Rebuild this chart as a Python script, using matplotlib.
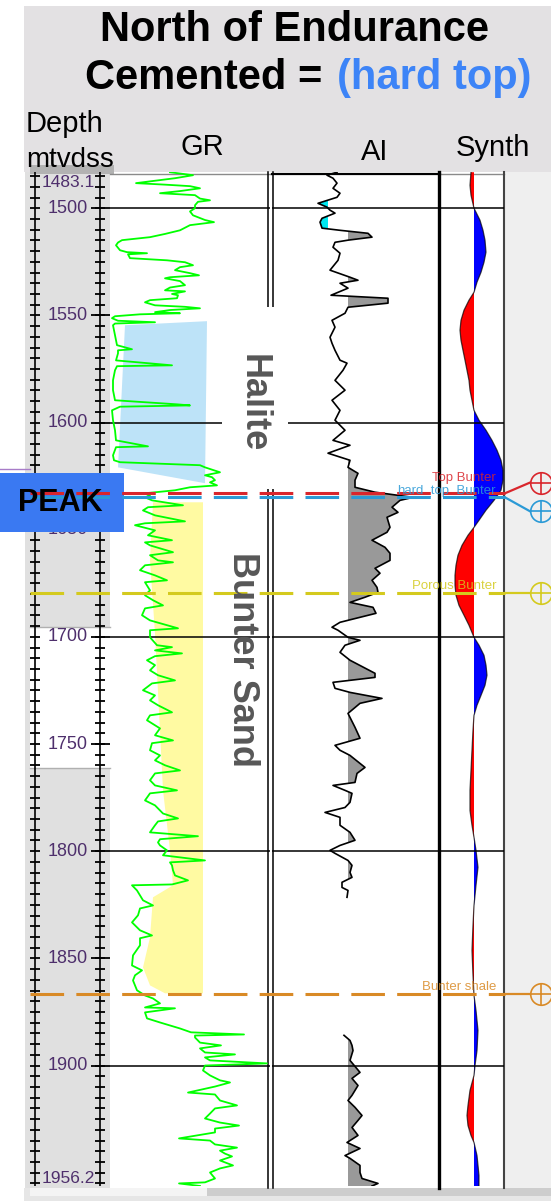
import numpy as np
import matplotlib.pyplot as plt
from matplotlib.transforms import blended_transform_factory

plt.rcParams['font.family'] = ['Liberation Sans', 'DejaVu Sans']

top_depth, base_depth = 1483.1, 1956.2

# GR log (depth m, API)
gr_log = [
    (1483.2, 60), (1484.6, 83), (1486.0, 65), (1488.3, 26), (1489.0, 55), (1489.7, 80), (1490.7, 90),
    (1492.0, 70), (1493.0, 50), (1493.9, 85), (1495.5, 90), (1496.3, 100), (1497.0, 88), (1498.6, 85),
    (1500.0, 85), (1501.5, 80), (1503.3, 83), (1505.5, 95), (1506.5, 104), (1507.9, 80), (1510.3, 70),
    (1512.0, 55), (1513.5, 40), (1514.9, 12), (1516.0, 8), (1517.3, 6), (1519.6, 10), (1520.5, 17),
    (1521.0, 37), (1521.5, 18), (1523.3, 20), (1524.3, 57), (1525.2, 75), (1526.6, 83), (1527.5, 70),
    (1528.9, 65), (1530.3, 80), (1531.3, 89), (1532.2, 60), (1532.7, 55), (1534.0, 70), (1535.9, 75),
    (1537.0, 60), (1538.3, 55), (1538.8, 75), (1540.0, 62), (1540.6, 68), (1542.0, 67), (1542.9, 40),
    (1543.9, 35), (1545.3, 45), (1546.0, 75), (1546.7, 90), (1547.5, 60), (1548.5, 45), (1549.0, 70),
    (1549.5, 30), (1550.4, 5), (1551.3, 2), (1552.5, 8), (1553.2, 45), (1553.8, 5), (1554.6, 3),
    (1559.3, 5), (1563.9, 7), (1565.8, 22), (1566.3, 8), (1567.7, 8), (1571.0, 6), (1573.3, 62),
    (1573.7, 7), (1575.6, 5), (1580.3, 3), (1584.9, 3), (1589.6, 5), (1591.5, 67), (1592.0, 80),
    (1592.6, 10), (1594.3, 2), (1598.9, 3), (1603.6, 5), (1608.3, 6), (1611.1, 38), (1611.5, 6),
    (1615.3, 3), (1617.6, 4), (1618.5, 10), (1619.9, 90), (1620.9, 95), (1623.2, 110), (1624.6, 95),
    (1625.5, 102), (1626.9, 105), (1627.9, 100), (1629.3, 107), (1630.2, 80), (1631.6, 65), (1633.0, 35),
    (1633.9, 40), (1634.9, 35), (1636.3, 42), (1638.6, 73), (1639.5, 38), (1641.0, 33), (1643.3, 45),
    (1646.1, 75), (1647.0, 35), (1647.9, 25), (1650.3, 45), (1652.6, 38), (1654.9, 62), (1655.9, 35),
    (1657.3, 40), (1660.5, 63), (1661.9, 40), (1664.3, 48), (1665.2, 63), (1666.6, 35), (1668.9, 30),
    (1671.3, 45), (1673.6, 57), (1674.5, 35), (1678.3, 40), (1680.6, 35), (1682.9, 43), (1685.3, 53),
    (1686.7, 35), (1689.9, 32), (1692.3, 40), (1696.0, 68), (1696.9, 40), (1700.2, 40), (1703.9, 47),
    (1704.8, 62), (1706.3, 45), (1707.7, 72), (1709.0, 45), (1710.9, 37), (1713.2, 45), (1715.6, 40),
    (1717.9, 48), (1720.3, 65), (1721.7, 42), (1724.9, 33), (1727.3, 45), (1729.6, 40), (1731.9, 48),
    (1735.2, 62), (1736.6, 40), (1738.9, 37), (1742.7, 50), (1745.9, 45), (1748.3, 63), (1749.6, 42),
    (1752.9, 40), (1755.3, 50), (1757.6, 45), (1759.9, 55), (1762.3, 70), (1763.7, 45), (1766.9, 40),
    (1769.3, 45), (1771.6, 67), (1773.0, 40), (1776.3, 35), (1778.6, 45), (1781.0, 50), (1782.4, 53),
    (1784.7, 68), (1786.1, 48), (1787.9, 45), (1791.2, 40), (1793.0, 88), (1794.4, 50), (1795.9, 48),
    (1797.3, 50), (1799.6, 57), (1801.9, 53), (1804.3, 95), (1805.2, 60), (1806.6, 62), (1808.9, 63),
    (1811.3, 65), (1813.6, 78), (1815.5, 62), (1815.9, 22), (1818.3, 27), (1820.6, 30), (1822.9, 33),
    (1825.3, 43), (1826.7, 30), (1829.9, 28), (1833.2, 22), (1836.9, 30), (1839.3, 42), (1840.6, 30),
    (1843.9, 30), (1848.6, 23), (1853.3, 22), (1855.6, 32), (1857.9, 25), (1860.3, 23), (1864.9, 27),
    (1867.3, 35), (1868.7, 43), (1871.0, 50), (1872.9, 35), (1873.3, 65), (1875.2, 35), (1878.0, 37),
    (1879.9, 50), (1882.7, 70), (1884.5, 81), (1885.5, 134), (1886.0, 85), (1886.9, 85), (1889.3, 90),
    (1890.6, 111), (1892.0, 90), (1893.9, 95), (1894.8, 125), (1896.2, 95), (1897.6, 100), (1899.0, 157),
    (1900.0, 95), (1902.3, 93), (1904.6, 100), (1906.9, 110), (1907.9, 120), (1909.8, 105), (1912.6, 78),
    (1913.5, 105), (1916.3, 110), (1918.6, 127), (1920.0, 105), (1922.4, 100), (1924.7, 95), (1926.6, 110),
    (1928.0, 129), (1929.4, 105), (1931.2, 105), (1934.0, 69), (1935.0, 100), (1936.8, 105), (1938.3, 127),
    (1939.7, 110), (1941.1, 115), (1942.4, 122), (1944.3, 110), (1946.6, 123), (1948.0, 110), (1949.9, 100),
    (1952.7, 105), (1954.5, 95), (1955.0, 69), (1956.2, 90),
]

# acoustic impedance (arbitrary units), gap with no data
ai_log = [
    (1483.2, 65), (1484.6, 55), (1486.0, 61), (1488.3, 65), (1490.7, 61), (1493.0, 68), (1494.9, 65),
    (1497.7, 46), (1499.5, 55), (1500.9, 58), (1502.3, 63), (1504.7, 50), (1506.5, 48), (1509.3, 50),
    (1510.3, 68), (1511.7, 96), (1513.5, 100), (1514.9, 76), (1515.9, 63), (1518.2, 61), (1521.0, 68),
    (1524.3, 66), (1528.9, 58), (1532.2, 78), (1533.6, 86), (1535.0, 68), (1537.3, 76), (1540.6, 59),
    (1542.0, 116), (1544.3, 116), (1546.2, 76), (1549.0, 73), (1552.3, 60), (1555.5, 63), (1560.2, 58),
    (1563.0, 60), (1566.3, 63), (1570.9, 68), (1572.3, 75), (1575.6, 71), (1580.3, 63), (1584.9, 73),
    (1589.6, 60), (1594.3, 68), (1598.9, 63), (1603.6, 73), (1608.3, 61), (1610.6, 78), (1614.3, 56),
    (1617.6, 78), (1620.9, 76), (1623.7, 86), (1626.9, 83), (1630.2, 83), (1632.5, 103), (1634.9, 141),
    (1636.3, 128), (1639.5, 120), (1641.9, 126), (1644.2, 115), (1648.9, 118), (1651.2, 115), (1654.9, 100),
    (1658.2, 113), (1661.0, 118), (1664.3, 118), (1668.0, 103), (1670.3, 108), (1673.6, 100), (1676.9, 105),
    (1679.2, 106), (1681.5, 93), (1683.9, 78), (1686.2, 101), (1689.0, 104), (1693.2, 68), (1695.5, 60),
    (1696.9, 66), (1700.2, 76), (1701.6, 88), (1703.9, 73), (1707.2, 68), (1710.9, 78), (1717.0, 103),
    (1718.9, 103), (1721.2, 61), (1724.0, 63), (1725.9, 78), (1728.7, 110), (1731.0, 88), (1735.7, 76),
    (1742.2, 83), (1747.3, 88), (1750.6, 63), (1752.9, 68), (1755.3, 78), (1760.9, 93), (1763.7, 85),
    (1767.9, 83), (1769.3, 61), (1771.6, 73), (1773.0, 80), (1777.2, 78), (1779.6, 73), (1781.9, 53),
    (1784.2, 68), (1787.9, 68), (1791.2, 78), (1794.9, 83), (1797.3, 68), (1799.6, 58), (1801.0, 63),
    (1804.3, 76), (1806.6, 80), (1809.9, 78), (1812.2, 80), (1814.5, 70), (1816.9, 70), (1818.3, 76),
    (1821.5, 75), (1853.0, np.nan),
    (1885.9, 72), (1888.3, 78), (1890.6, 80), (1893.0, 81), (1897.6, 78), (1900.4, 83), (1903.2, 88),
    (1906.0, 80), (1909.3, 86), (1913.9, 80), (1916.3, 76), (1919.5, 83), (1923.3, 90), (1925.6, 86),
    (1928.9, 80), (1932.6, 86), (1935.9, 75), (1938.7, 88), (1942.0, 73), (1943.3, 78), (1946.6, 88),
    (1949.9, 88), (1952.7, 90), (1955.0, 106), (1956.2, 100),
]
ai_hard, ai_soft = 76, 56

# synthetic seismogram amplitude
synth_log = [
    (1483.2, -3), (1489.3, -4), (1493.9, -3), (1500.0, 0), (1505.6, 6), (1510.3, 9), (1514.9, 11),
    (1520.5, 12), (1525.2, 10), (1529.9, 7), (1534.5, 3), (1539.2, 0), (1542.9, -5), (1547.6, -10),
    (1552.3, -13), (1556.9, -14), (1561.6, -13), (1566.3, -11), (1570.9, -9), (1575.6, -7), (1580.3, -5),
    (1584.9, -4), (1589.6, -2), (1594.3, 0), (1598.9, 5), (1603.6, 12), (1608.3, 18), (1612.9, 23),
    (1617.6, 27), (1622.3, 29), (1626.9, 29), (1631.6, 27), (1636.3, 20), (1640.9, 12), (1645.6, 5),
    (1648.9, 0), (1652.6, -6), (1657.3, -12), (1661.9, -16), (1666.6, -18), (1671.3, -19), (1675.9, -19),
    (1680.6, -18), (1685.3, -15), (1689.9, -10), (1694.6, -5), (1700.2, 0), (1703.9, 5), (1708.6, 10),
    (1713.2, 12), (1717.9, 13), (1722.6, 11), (1727.3, 7), (1731.9, 3), (1736.6, 0), (1743.6, -1),
    (1752.9, -2), (1762.3, -3), (1771.6, -4), (1781.0, -4), (1787.9, -2), (1793.5, 0), (1799.6, 2),
    (1807.5, 4), (1815.9, 2), (1825.3, 0), (1834.6, -1), (1846.3, -2), (1857.9, -1), (1867.3, 0),
    (1874.3, 2), (1883.6, 4), (1893.0, 3), (1900.0, 1), (1904.6, 0), (1911.6, -4), (1918.6, -6),
    (1923.3, -7), (1928.0, -6), (1932.6, -3), (1935.9, 0), (1942.0, 3), (1946.6, 4), (1951.3, 5),
    (1956.2, 5),
]

# interpreted zones on the GR track
halite_gr = [15, 97, 95, 8]
halite_depth = [1554.6, 1552.7, 1628.3, 1620.9]
sand_gr = [43, 40, 45, 53, 60, 63, 43, 40, 33, 40, 55, 93, 93]
sand_depth = [1637.2, 1664.3, 1698.4, 1771.6, 1799.6, 1815.9, 1821.5, 1840.2, 1854.2, 1862.6,
              1866.3, 1866.3, 1637.2]

# formation tops
tops_name = ['hard_top_Bunter', 'Top Bunter', 'Porous Bunter', 'Bunter shale']
tops_depth = [1634.9, 1633.0, 1679.7, 1866.8]
tops_color = ['#2b9ad6', '#d9262c', '#d4ca1e', '#d98a26']
tops_shift = [6.5, -5.0, 0, 0]
tops_lift = [2.5, 9, 3, 3]

depth_labels = [1500, 1550, 1600, 1650, 1700, 1750, 1800, 1850, 1900]
grid_depths = [1500, 1600, 1700, 1800, 1900]

gr_depth, gr_api = np.array(gr_log).T
ai_depth, ai_val = np.array(ai_log).T
syn_depth, syn_amp = np.array(synth_log).T

W, H = 551, 1201
y_top, y_base = 172, 1186

fig = plt.figure(figsize=(W / 100, H / 100), dpi=100)
bg = fig.add_axes([0, 0, 1, 1])
bg.set_xlim(0, W)
bg.set_ylim(H, 0)
bg.axis('off')


def box(ax, x0, y0, x1, y1, color, **kw):
    ax.add_patch(plt.Rectangle((x0, y0), x1 - x0, y1 - y0, facecolor=color, lw=0, **kw))


# backgrounds
box(bg, 24, 6, 551, 172, '#e3e1e3')
box(bg, 25, 172, 110, 1190, '#e0e0e0')
box(bg, 30, 627, 110, 768, 'white')
bg.plot([30, 110], [627, 627], color='#b0b0b0', lw=1)
bg.plot([30, 110], [768, 768], color='#b0b0b0', lw=1)
box(bg, 110, 172, 504, 1188, 'white')
box(bg, 504, 172, 551, 1188, '#efefef')
box(bg, 24, 1188, 551, 1201, '#e6e6e6')
box(bg, 30, 1188, 207, 1196, '#f4f4f4')
box(bg, 207, 1188, 551, 1196, '#cdcdcd')
box(bg, 30, 165, 114, 174, '#b2b2b2')

# header
bg.text(295, 41, 'North of Endurance', ha='center', va='baseline', fontsize=30, weight='bold')
bg.text(322, 89, 'Cemented =', ha='right', va='baseline', fontsize=30, weight='bold')
bg.text(337, 89, '(hard top)', ha='left', va='baseline', fontsize=30, weight='bold', color='#3d84f7')
bg.text(26, 132, 'Depth', ha='left', va='baseline', fontsize=21)
bg.text(26, 167, 'mtvdss', ha='left', va='baseline', fontsize=20)
bg.text(202, 155, 'GR', ha='center', va='baseline', fontsize=21)
bg.text(375, 160, 'AI', ha='center', va='baseline', fontsize=21)
bg.text(493, 156, 'Synth', ha='center', va='baseline', fontsize=21)
bg.plot([110, 272], [174, 174], color='#8a8a8a', lw=1)
bg.plot([272, 440], [174, 174], color='black', lw=1.6)
bg.plot([440, 504], [174, 174], color='#8a8a8a', lw=1)

# track borders
bg.plot([268, 268], [172, 1188], color='black', lw=1.1)
bg.plot([273, 273], [172, 1188], color='black', lw=1.1)
bg.plot([439, 439], [172, 1188], color='black', lw=2.4)
bg.plot([504, 504], [172, 1188], color='#444444', lw=1.5)


def track(x0, x1, xlim):
    ax = fig.add_axes([x0 / W, 1 - y_base / H, (x1 - x0) / W, (y_base - y_top) / H])
    ax.set_xlim(*xlim)
    ax.set_ylim(base_depth, top_depth)
    ax.axis('off')
    return ax


depth_ax = track(25, 110, (25, 110))
gr_ax = track(110, 270, (0, 160))
ai_ax = track(272, 438, (0, 166))
syn_ax = track(440, 504, (-34, 30))

# depth scale
ticks = np.arange(1485, 1956, 5)
depth_ax.axvline(35, color='black', lw=1.2)
depth_ax.axvline(100, color='black', lw=1.2)
depth_ax.hlines(ticks, 30, 40, color='black', lw=1.3)
depth_ax.hlines(ticks, 95, 105, color='black', lw=1.3)
depth_ax.hlines(depth_labels, 91, 110, color='black', lw=1.3)
lab_color = '#4e2f6c'
for d in depth_labels:
    depth_ax.text(68, d, str(d), ha='center', va='center', fontsize=13, color=lab_color)
depth_ax.annotate('%.1f' % top_depth, (68, top_depth), xytext=(0, -2), textcoords='offset points',
                  ha='center', va='top', fontsize=12.5, color=lab_color)
depth_ax.annotate('%.1f' % base_depth, (68, base_depth), xytext=(0, 0), textcoords='offset points',
                  ha='center', va='bottom', fontsize=12.5, color=lab_color)

for ax in (gr_ax, ai_ax, syn_ax):
    for d in grid_depths:
        ax.axhline(d, color='black', lw=1.1, zorder=1.5)

# GR track
gr_ax.fill(halite_gr, halite_depth, color='#bde3f8', lw=0, zorder=1)
gr_ax.fill(sand_gr, sand_depth, color='#fffaa2', lw=0, zorder=1)
gr_ax.plot(gr_api, gr_depth, color='#00ff00', lw=1.3, zorder=2)

# AI track
ai_ax.fill_betweenx(ai_depth, ai_hard, ai_val, where=ai_val > ai_hard, interpolate=True,
                    color='#999999', lw=0, zorder=1)
ai_ax.fill_betweenx(ai_depth, ai_soft, ai_val, where=ai_val < ai_soft, interpolate=True,
                    color='#00e8f0', lw=0, zorder=1)
ai_ax.plot(ai_val, ai_depth, color='black', lw=1.2, zorder=2)

# synthetic
syn_ax.fill_betweenx(syn_depth, 0, syn_amp, where=syn_amp < 0, interpolate=True,
                     color='#ff0000', lw=0, zorder=1)
syn_ax.fill_betweenx(syn_depth, 0, syn_amp, where=syn_amp > 0, interpolate=True,
                     color='#0000ff', lw=0, zorder=1)
syn_ax.plot(syn_amp, syn_depth, color='black', lw=0.9, alpha=0.7, zorder=2)

# overlay: labels, tops, markers
ov = fig.add_axes([0, 0, 1, 1])
ov.set_xlim(0, W)
ov.set_ylim(H, 0)
ov.axis('off')
dtr = blended_transform_factory(ov.transData, gr_ax.transData)

box(ov, 222, 307, 288, 489, 'white')
ov.text(253, 403, 'Halite', rotation=270, ha='center', va='center', fontsize=26,
        weight='bold', color='#575757')
ov.text(242, 659, 'Bunter Sand', rotation=270, ha='center', va='center', fontsize=26,
        weight='bold', color='#575757')

for name, d, c, s, lift in zip(tops_name, tops_depth, tops_color, tops_shift, tops_lift):
    ov.plot([30, 505], [d, d], transform=dtr, color=c, lw=2.2, dashes=(11, 4))
    ov.plot([505, 530], [d, d + s], transform=dtr, color=c, lw=1.6)
    ov.plot([541], [d + s], transform=dtr, marker='o', ms=15.5, mfc='none', mec=c, mew=1.2,
            clip_on=False)
    ov.plot([541], [d + s], transform=dtr, marker='+', ms=15.5, color=c, mew=1.2, clip_on=False)
    ov.annotate(name, (496, d), xycoords=dtr, xytext=(0, lift), textcoords='offset points',
                ha='right', va='baseline', fontsize=9.5, color=c, alpha=0.85)

ov.plot([0, 30], [469, 469], color='#a87cc8', lw=1)
box(ov, 0, 473, 124, 532, '#3a79f2')
ov.text(60, 503, 'PEAK', ha='center', va='center', fontsize=22, weight='bold')

fig.savefig('out.png', dpi=100)
